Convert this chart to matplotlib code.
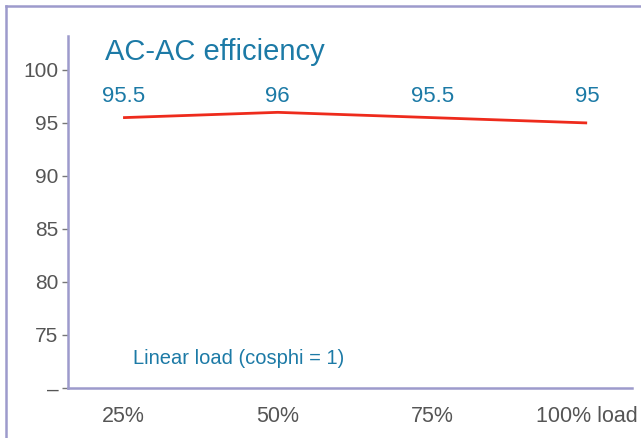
import matplotlib.pyplot as plt

plt.rcParams['font.family'] = ['Liberation Sans', 'DejaVu Sans']

loads = ["25%", "50%", "75%", "100% load"]
efficiency = [95.5, 96, 95.5, 95]
point_labels = ["95.5", "96", "95.5", "95"]
y_ticks = [70, 75, 80, 85, 90, 95, 100]
y_tick_labels = ["–", "75", "80", "85", "90", "95", "100"]

AXIS_COLOR = "#9d9bcc"
BLUE = "#1c7aa6"
GREY = "#555555"
RED = "#ee2b1c"

fig = plt.figure(figsize=(6.41, 4.38), dpi=100)

# outer frame (only top and left edges show)
fig.add_artist(plt.Line2D([6 / 641, 1.0], [1 - 6 / 438, 1 - 6 / 438],
                          transform=fig.transFigure, color=AXIS_COLOR, lw=1.8))
fig.add_artist(plt.Line2D([6 / 641, 6 / 641], [0, 1 - 6 / 438],
                          transform=fig.transFigure, color=AXIS_COLOR, lw=1.8))

ax = fig.add_axes([68 / 641, 1 - 388 / 438, (632 - 68) / 641, (388 - 36) / 438])
x = list(range(len(loads)))
ax.plot(x, efficiency, color=RED, lw=2, solid_capstyle="butt")

# value labels all sit on one row above the line
label_row = 97.5
for xi, lab in zip(x, point_labels):
    ax.text(xi, label_row, lab, ha="center", va="center", color=BLUE, fontsize=16)

ax.set_xlim(-0.356, 3.29)
ax.set_ylim(70, 103.2)
ax.set_yticks(y_ticks)
ax.set_yticklabels(y_tick_labels)
ax.set_xticks(x)
ax.set_xticklabels(loads)

for side in ["top", "right"]:
    ax.spines[side].set_visible(False)
for side in ["left", "bottom"]:
    ax.spines[side].set_color(AXIS_COLOR)
    ax.spines[side].set_linewidth(1.8)

ax.tick_params(axis="y", labelcolor=GREY, color="#777777", labelsize=15,
               length=4, width=1, direction="out", pad=3)
ax.tick_params(axis="x", length=0, labelsize=15.5, labelcolor=GREY, pad=13)

ax.text(0.065, 0.955, "AC-AC efficiency", transform=ax.transAxes,
        color=BLUE, fontsize=21, ha="left", va="center")
ax.text(0.115, 0.085, "Linear load (cosphi = 1)", transform=ax.transAxes,
        color=BLUE, fontsize=14.5, ha="left", va="center")

fig.savefig("out.png", dpi=100)
